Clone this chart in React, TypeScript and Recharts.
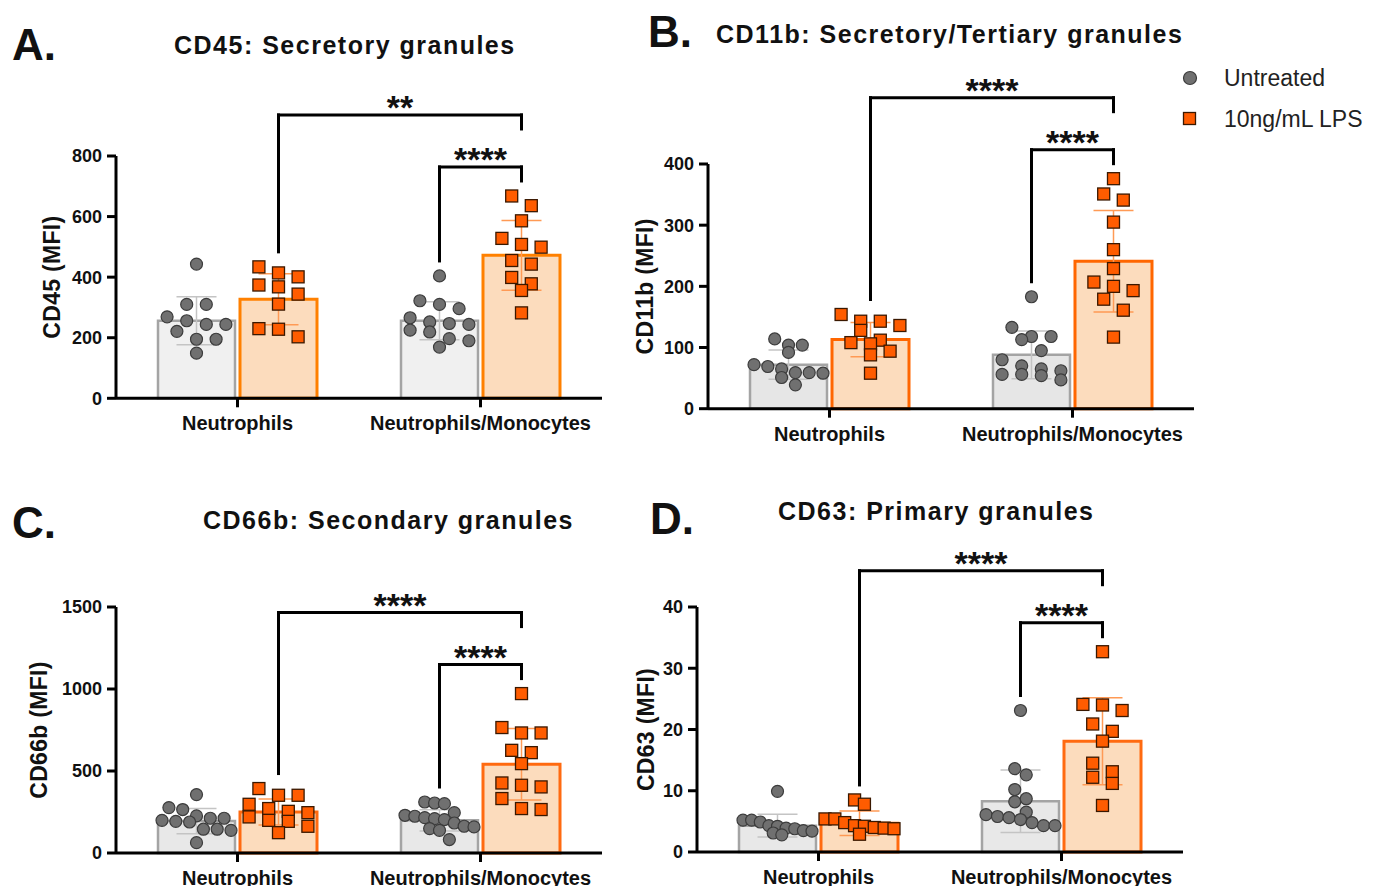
import { Bar, ComposedChart, ErrorBar, Legend, ReferenceLine, Scatter, XAxis, YAxis } from 'recharts';

const FONT = '"Liberation Sans", Arial, Helvetica, sans-serif';

const groups = ['Neutrophils', 'Neutrophils/Monocytes'];
const seriesNames = ['Untreated', '10ng/mL LPS'];

// CD45 (A)
const cd45Untreated = [
  [443, 310, 310, 269, 256, 244, 244, 221, 195, 195, 149],
  [404, 322, 310, 296, 266, 252, 247, 244, 225, 219, 197, 190, 169],
];
const cd45Lps = [
  [434, 414, 401, 374, 368, 344, 311, 230, 228, 203],
  [668, 636, 586, 528, 508, 499, 455, 443, 399, 378, 356, 282],
];
const cd45UntreatedMean = [256, 256];
const cd45UntreatedSd = [79, 63];
const cd45LpsMean = [327, 472];
const cd45LpsSd = [84, 115];
const cd45Ticks = [0, 200, 400, 600, 800];
const cd45Stars = ['**', '****'];

// CD11b (B)
const cd11bUntreated = [
  [114, 104, 104, 92, 72, 69, 65, 59, 59, 58, 51, 39],
  [183, 133, 118, 118, 113, 95, 80, 70, 65, 62, 56, 56, 54, 47],
];
const cd11bLps = [
  [154, 143, 143, 136, 128, 112, 108, 106, 94, 88, 58],
  [376, 351, 341, 305, 260, 229, 207, 200, 193, 179, 161, 117],
];
const cd11bUntreatedMean = [72, 88];
const cd11bUntreatedSd = [24, 39];
const cd11bLpsMean = [113, 241];
const cd11bLpsSd = [28, 83];
const cd11bTicks = [0, 100, 200, 300, 400];
const cd11bStars = ['****', '****'];

// CD66b (C)
const cd66bUntreated = [
  [356, 277, 265, 226, 212, 212, 199, 193, 189, 145, 145, 138, 63],
  [311, 305, 301, 246, 230, 224, 216, 210, 204, 183, 163, 159, 149, 138, 82],
];
const cd66bLps = [
  [393, 352, 352, 297, 271, 254, 246, 220, 199, 193, 163, 124],
  [972, 765, 732, 732, 626, 612, 545, 427, 413, 403, 332, 271, 265],
];
const cd66bUntreatedMean = [195, 199];
const cd66bUntreatedSd = [77, 65];
const cd66bLpsMean = [250, 541];
const cd66bLpsSd = [80, 218];
const cd66bTicks = [0, 500, 1000, 1500];
const cd66bStars = ['****', '****'];

// CD63 (D)
const cd63Untreated = [
  [9.9, 5.2, 5.2, 4.9, 4.3, 4.2, 3.9, 3.8, 3.5, 3.4, 3.1, 2.8],
  [23.1, 13.6, 12.6, 10.2, 8.7, 8.2, 6.5, 6.1, 5.8, 5.6, 5.3, 4.8, 4.3, 4.3],
];
const cd63Lps = [
  [8.5, 7.8, 5.4, 5.4, 4.8, 4.3, 4.2, 4.0, 3.9, 3.8, 2.9],
  [32.7, 24.1, 24.0, 23.1, 20.9, 19.7, 18.1, 14.5, 13.1, 12.2, 11.2, 7.6],
];
const cd63UntreatedMean = [4.3, 8.3];
const cd63UntreatedSd = [1.85, 5.1];
const cd63LpsMean = [4.7, 18.1];
const cd63LpsSd = [2.0, 7.1];
const cd63Ticks = [0, 10, 20, 30, 40];
const cd63Stars = ['****', '****'];

// layout constants (px)
const PLOT_W = 486;
const BAND = PLOT_W / 2;
const BAR_SIZE = 77;
const BAR_GAP = 5;
const BAR_SHIFT = (BAR_SIZE + BAR_GAP) / 2;
const Y_AXIS_W = 90;
const M_LEFT = 10;
const M_TOP = 120;
const ROW_GAP = 12;
const MAX_STEP = 19.6;
const MAX_SPREAD = 69;

// GraphPad-like row layout: points of similar value share a row and spread sideways
function swarm(values: number[], pxPerUnit: number): number[] {
  const order = values.map((_, i) => i).sort((a, b) => values[b] - values[a]);
  const rows: number[][] = [];
  let current: number[] = [];
  let rowTop = 0;
  order.forEach((idx) => {
    if (current.length && (rowTop - values[idx]) * pxPerUnit < ROW_GAP) {
      current.push(idx);
    } else {
      if (current.length) rows.push(current);
      current = [idx];
      rowTop = values[idx];
    }
  });
  if (current.length) rows.push(current);
  const widest = Math.max(...rows.map((r) => r.length));
  const step = widest > 1 ? Math.min(MAX_STEP, MAX_SPREAD / (widest - 1)) : MAX_STEP;
  const offsets = values.map(() => 0);
  rows.forEach((row) =>
    row.forEach((idx, k) => {
      offsets[idx] = (k - (row.length - 1) / 2) * step;
    }),
  );
  return offsets;
}

interface PanelSpec {
  plotLeft: number;
  plotTop: number;
  plotH: number;
  yMax: number;
  ticks: number[];
  yLabel: string;
  labelOffset: number;
  untreated: number[][];
  lps: number[][];
  untreatedMean: number[];
  untreatedSd: number[];
  lpsMean: number[];
  lpsSd: number[];
  stars: string[];
  greyFill: string;
  orangeStroke: string;
  legend?: boolean;
}

const panels: PanelSpec[] = [
  {
    plotLeft: 116, plotTop: 156, plotH: 242.3, yMax: 800, ticks: cd45Ticks, yLabel: 'CD45 (MFI)', labelOffset: 26,
    untreated: cd45Untreated, lps: cd45Lps, untreatedMean: cd45UntreatedMean, untreatedSd: cd45UntreatedSd,
    lpsMean: cd45LpsMean, lpsSd: cd45LpsSd, stars: cd45Stars, greyFill: '#f0f0f0', orangeStroke: '#ff8000',
  },
  {
    plotLeft: 708, plotTop: 164.3, plotH: 244.7, yMax: 400, ticks: cd11bTicks, yLabel: 'CD11b (MFI)', labelOffset: 27,
    untreated: cd11bUntreated, lps: cd11bLps, untreatedMean: cd11bUntreatedMean, untreatedSd: cd11bUntreatedSd,
    lpsMean: cd11bLpsMean, lpsSd: cd11bLpsSd, stars: cd11bStars, greyFill: '#e6e6e6', orangeStroke: '#ff6600',
    legend: true,
  },
  {
    plotLeft: 116, plotTop: 606.7, plotH: 246, yMax: 1500, ticks: cd66bTicks, yLabel: 'CD66b (MFI)', labelOffset: 13,
    untreated: cd66bUntreated, lps: cd66bLps, untreatedMean: cd66bUntreatedMean, untreatedSd: cd66bUntreatedSd,
    lpsMean: cd66bLpsMean, lpsSd: cd66bLpsSd, stars: cd66bStars, greyFill: '#e8e8e8', orangeStroke: '#ff6a10',
  },
  {
    plotLeft: 697, plotTop: 607.3, plotH: 245, yMax: 40, ticks: cd63Ticks, yLabel: 'CD63 (MFI)', labelOffset: 39,
    untreated: cd63Untreated, lps: cd63Lps, untreatedMean: cd63UntreatedMean, untreatedSd: cd63UntreatedSd,
    lpsMean: cd63LpsMean, lpsSd: cd63LpsSd, stars: cd63Stars, greyFill: '#e8e8e8', orangeStroke: '#ff6a10',
  },
];

const GreyDot = (props: any) => (
  <circle cx={props.cx} cy={props.cy} r={6} fill="#707070" stroke="#3c3c3c" strokeWidth={1.2} />
);
const OrangeSquare = (props: any) => (
  <rect x={props.cx - 6} y={props.cy - 6} width={12} height={12} fill="#ff5c00" stroke="#3a1800" strokeWidth={1.3} />
);

function LegendContent({ payload }: any) {
  const entries = (payload ?? [])
    .filter((e: any) => e.dataKey === 'untreated' || e.dataKey === 'lps')
    .sort((a: any, b: any) => (a.dataKey === 'untreated' ? -1 : b.dataKey === 'untreated' ? 1 : 0));
  return (
    <svg width={230} height={90} style={{ fontFamily: FONT, overflow: 'visible' }}>
      {entries.map((entry: any, i: number) => (
        <g key={entry.value} transform={`translate(0, ${i * 41})`}>
          {entry.dataKey === 'untreated' ? (
            <circle cx={15} cy={18} r={6.5} fill="#707070" stroke="#3c3c3c" strokeWidth={1.2} />
          ) : (
            <rect x={8.5} y={11.5} width={12} height={12} fill="#ff5c00" stroke="#3a1800" strokeWidth={1.3} />
          )}
          <text x={49} y={26} fontSize={23} fill="#222">
            {entry.value}
          </text>
        </g>
      ))}
    </svg>
  );
}

function Panel({ spec }: { spec: PanelSpec }) {
  const ppu = spec.plotH / spec.yMax;
  const mRight = spec.legend ? 180 : 20;
  const width = M_LEFT + Y_AXIS_W + PLOT_W + mRight;
  const height = M_TOP + spec.plotH + 44 + 10;

  const rows = groups.map((g, i) => ({
    group: g,
    untreated: spec.untreatedMean[i],
    untreatedSd: spec.untreatedSd[i],
    lps: spec.lpsMean[i],
    lpsSd: spec.lpsSd[i],
  }));

  const toPoints = (sets: number[][], side: number) =>
    sets.flatMap((vals, gi) => {
      const off = swarm(vals, ppu);
      return vals.map((v, k) => ({ x: gi + 0.5 + (side * BAR_SHIFT + off[k]) / BAND, y: v }));
    });
  const untreatedPts = toPoints(spec.untreated, -1);
  const lpsPts = toPoints(spec.lps, 1);

  // significance brackets, placed above the points they compare
  const px = (p: number) => p / ppu;
  const maxU = spec.untreated.map((v) => Math.max(...v));
  const maxL = spec.lps.map((v) => Math.max(...v));
  const xU1 = 1.5 - BAR_SHIFT / BAND;
  const xL0 = 0.5 + BAR_SHIFT / BAND;
  const xL1 = 1.5 + BAR_SHIFT / BAND;
  const smallTop = Math.max(maxU[1], maxL[1]) + px(29);
  const bigRight = smallTop + px(38);
  const bigTop = bigRight + px(14);
  const segs: { pts: [number, number][]; label?: string }[] = [
    { pts: [[xU1, maxU[1] + px(15)], [xU1, smallTop]] },
    { pts: [[xU1, smallTop], [xL1, smallTop]], label: spec.stars[1] },
    { pts: [[xL1, smallTop], [xL1, maxL[1] + px(15)]] },
    { pts: [[xL0, maxL[0] + px(15)], [xL0, bigTop]] },
    { pts: [[xL0, bigTop], [xL1, bigTop]], label: spec.stars[0] },
    { pts: [[xL1, bigTop], [xL1, bigRight]] },
  ];

  const axisStyle = { stroke: '#000', strokeWidth: 3 };

  return (
    <div style={{ position: 'absolute', left: spec.plotLeft - M_LEFT - Y_AXIS_W, top: spec.plotTop - M_TOP }}>
      <ComposedChart
        width={width}
        height={height}
        data={rows}
        margin={{ top: M_TOP, right: mRight, bottom: 10, left: M_LEFT }}
        barSize={BAR_SIZE}
        barGap={BAR_GAP}
      >
        <XAxis
          xAxisId="cat"
          dataKey="group"
          type="category"
          interval={0}
          height={44}
          axisLine={axisStyle}
          tickLine={axisStyle}
          tickSize={9}
          tickMargin={9}
          tick={{ fontSize: 20, fontWeight: 700, fill: '#111' }}
        />
        <XAxis xAxisId="num" dataKey="x" type="number" domain={[0, 2]} hide />
        <YAxis
          width={Y_AXIS_W}
          domain={[0, spec.yMax]}
          ticks={spec.ticks}
          interval={0}
          axisLine={axisStyle}
          tickLine={axisStyle}
          tickSize={9}
          tickMargin={5}
          tick={{ fontSize: 18, fontWeight: 700, fill: '#111' }}
          label={{
            value: spec.yLabel,
            angle: -90,
            position: 'insideLeft',
            offset: spec.labelOffset,
            fontSize: 23,
            fontWeight: 700,
            fill: '#111',
            letterSpacing: 0.3,
            style: { textAnchor: 'middle' },
          }}
        />
        <Bar
          xAxisId="cat"
          dataKey="untreated"
          name={seriesNames[0]}
          fill={spec.greyFill}
          stroke="#a4a4a4"
          strokeWidth={2.5}
          isAnimationActive={false}
        >
          <ErrorBar dataKey="untreatedSd" width={20} stroke="#c4c4c4" strokeWidth={1.5} direction="y" />
        </Bar>
        <Bar
          xAxisId="cat"
          dataKey="lps"
          name={seriesNames[1]}
          fill="#fcdcbd"
          stroke={spec.orangeStroke}
          strokeWidth={3}
          isAnimationActive={false}
        >
          <ErrorBar dataKey="lpsSd" width={20} stroke="#ff9a55" strokeWidth={1.5} direction="y" />
        </Bar>
        <Scatter
          xAxisId="num"
          data={untreatedPts}
          dataKey="y"
          shape={GreyDot}
          legendType="none"
          isAnimationActive={false}
        />
        <Scatter
          xAxisId="num"
          data={lpsPts}
          dataKey="y"
          shape={OrangeSquare}
          legendType="none"
          isAnimationActive={false}
        />
        {segs.map((s, i) => (
          <ReferenceLine
            key={i}
            xAxisId="num"
            ifOverflow="visible"
            segment={[
              { x: s.pts[0][0], y: s.pts[0][1] },
              { x: s.pts[1][0], y: s.pts[1][1] },
            ]}
            stroke="#000"
            strokeWidth={3}
            strokeLinecap="square"
            label={
              s.label
                ? { value: s.label, position: 'top', offset: -4, fontSize: 34, fontWeight: 700, fill: '#111' }
                : undefined
            }
          />
        ))}
        {spec.legend && (
          <Legend
            layout="vertical"
            align="center"
            verticalAlign="middle"
            wrapperStyle={{ left: 567, top: 16, width: 230, height: 90 }}
            content={LegendContent}
          />
        )}
      </ComposedChart>
    </div>
  );
}

const titles = [
  { letter: 'A.', lx: 12, ly: 60, text: 'CD45: Secretory granules', tx: 174, ty: 54 },
  { letter: 'B.', lx: 648, ly: 47, text: 'CD11b: Secretory/Tertiary granules', tx: 716, ty: 43 },
  { letter: 'C.', lx: 12, ly: 538, text: 'CD66b: Secondary granules', tx: 203, ty: 529 },
  { letter: 'D.', lx: 650, ly: 534, text: 'CD63: Primary granules', tx: 778, ty: 520 },
];

export default function App() {
  return (
    <div
      style={{
        position: 'absolute',
        left: 0,
        top: 0,
        width: 1375,
        height: 886,
        overflow: 'hidden',
        background: '#fff',
        fontFamily: FONT,
      }}
    >
      {panels.map((p) => (
        <Panel key={p.yLabel} spec={p} />
      ))}
      <svg
        width={1375}
        height={886}
        style={{ position: 'absolute', left: 0, top: 0, pointerEvents: 'none' }}
      >
        {titles.map((t) => (
          <g key={t.letter} fontFamily={FONT} fontWeight={700} fill="#111">
            <text x={t.lx} y={t.ly} fontSize={44}>
              {t.letter}
            </text>
            <text x={t.tx} y={t.ty} fontSize={25} letterSpacing={1.5}>
              {t.text}
            </text>
          </g>
        ))}
      </svg>
    </div>
  );
}
